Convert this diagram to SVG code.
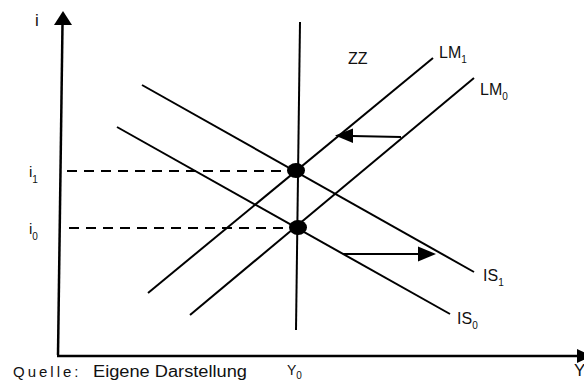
<svg xmlns="http://www.w3.org/2000/svg" width="584" height="381" viewBox="0 0 584 381">
<style>
.ln{stroke:#000;stroke-width:2;fill:none;stroke-linecap:butt}
.ax{stroke:#000;stroke-width:2.5;fill:none}
.dash{stroke:#000;stroke-width:1.8;stroke-dasharray:10 7;fill:none}
.t{font-family:"Liberation Sans",Arial,sans-serif;fill:#111}
.lbl{font-size:16px}
.sub{font-size:10px}
</style>
<rect width="584" height="381" fill="#fff"/>
<g id="axes">
<line class="ax" x1="58" y1="355" x2="62.5" y2="24"/>
<polygon points="63,11 54,25 72,25" fill="#000"/>
<line class="ax" x1="57" y1="356" x2="578" y2="356"/>
<polygon points="592,356 577,349 577,363" fill="#000"/>
</g>
<g id="connectors">
<line id="zz" class="ln" x1="300" y1="22" x2="296" y2="330"/>
<line id="lm1" class="ln" x1="148" y1="293" x2="433" y2="58"/>
<line id="lm0" class="ln" x1="190" y1="315" x2="474" y2="78"/>
<line id="is1" class="ln" x1="142" y1="85" x2="474" y2="272"/>
<line id="is0" class="ln" x1="117" y1="127" x2="450" y2="314"/>
<line class="dash" x1="67" y1="171" x2="288" y2="171"/>
<line class="dash" x1="69" y1="228" x2="290" y2="228"/>
<line class="ln" x1="401" y1="137" x2="352" y2="136"/>
<polygon points="335,135.5 353,128.5 353,143" fill="#000"/>
<line class="ln" x1="343" y1="254" x2="419" y2="254"/>
<polygon points="436,254 418,246.5 418,261.5" fill="#000"/>
</g>
<g id="points">
<ellipse cx="296" cy="170.5" rx="9" ry="7.5" fill="#000"/>
<ellipse cx="298" cy="227.5" rx="9" ry="7.5" fill="#000"/>
</g>
<g id="labels">
<text class="t" x="35" y="26" font-size="17">i</text>
<text class="t" x="29" y="177" font-size="15">i<tspan class="sub" dy="6">1</tspan></text>
<text class="t" x="29" y="234" font-size="15">i<tspan class="sub" dy="6">0</tspan></text>
<text class="t lbl" x="348" y="64" font-size="16">ZZ</text>
<text class="t lbl" x="439" y="58">LM<tspan class="sub" dy="5">1</tspan></text>
<text class="t lbl" x="480" y="95">LM<tspan class="sub" dy="5">0</tspan></text>
<text class="t lbl" x="483" y="281">IS<tspan class="sub" dy="5">1</tspan></text>
<text class="t lbl" x="457" y="324">IS<tspan class="sub" dy="5">0</tspan></text>
<text class="t" x="287" y="375" font-size="14">Y<tspan class="sub" dy="4">0</tspan></text>
<text class="t" x="574" y="376" font-size="17">Y</text>
<text class="t" x="13" y="377" font-size="15" letter-spacing="3">Quelle:</text>
<text class="t" x="93" y="377" font-size="16" textLength="154" lengthAdjust="spacingAndGlyphs">Eigene Darstellung</text>
</g>
</svg>
